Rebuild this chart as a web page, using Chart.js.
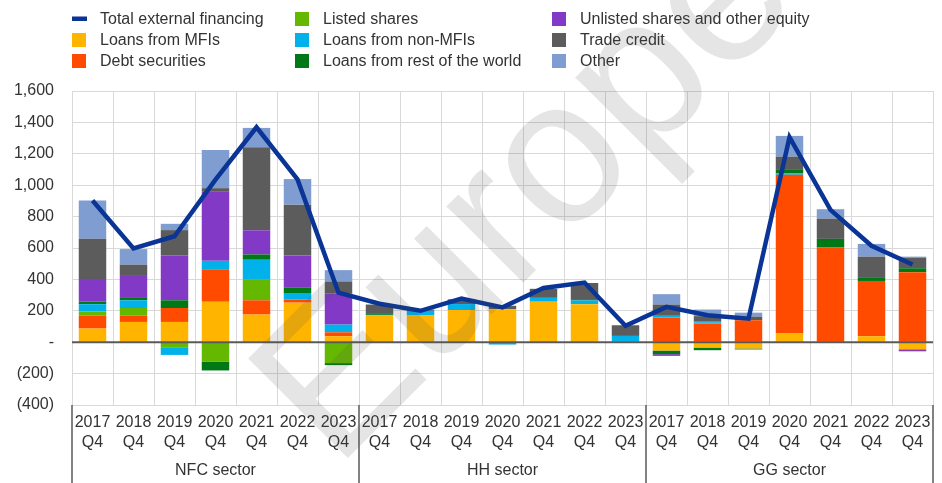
<!DOCTYPE html>
<html>
<head>
<meta charset="utf-8">
<script src="https://cdn.jsdelivr.net/npm/chart.js@4/dist/chart.umd.min.js"></script>
<style>
  html, body { margin: 0; padding: 0; background: #fff; }
  #wrap { width: 942px; height: 483px; }
</style>
</head>
<body>
<div id="wrap"><canvas id="chart" width="942" height="483"></canvas></div>
<script>
// External financing by sector, EUR bn, stacked by instrument
const years = ['2017', '2018', '2019', '2020', '2021', '2022', '2023'];
const sectors = ['NFC sector', 'HH sector', 'GG sector'];

//                 ---------- NFC ----------------------   ------------- HH ---------------   ---------------- GG ------------------
const loansMFI     = [87, 129, 129, 258, 176, 252, 38,      170, 170, 205, 210, 258, 242, 0,    -53, -34, -40, 55, 0, 38, -45];
const debtSec      = [83, 40, 89, 203, 91, 19, 25,          0, 0, 0, 0, 0, 0, 0,                157, 119, 140, 1011, 603, 352, 446];
const listedShares = [25, 49, -32, -123, 135, 0, -133,      0, 0, 0, 0, 0, 0, 0,                0, 0, 0, 0, 0, 0, 0];
const loansNonMFI  = [47, 49, -49, 57, 123, 38, 49,         4, 30, 38, -15, 25, 24, 40,         11, 8, 0, 10, 0, 0, 0];
const loansRoW     = [17, 15, 49, -57, 34, 38, -13,         6, 0, 0, 0, 5, 8, 0,                -23, -17, -6, 26, 55, 24, 25];
const unlisted     = [144, 140, 284, 440, 154, 205, 197,    0, 0, 0, 0, 0, 0, 0,                -11, 5, 0, 0, 0, 0, -13];
const tradeCredit  = [256, 72, 163, 23, 529, 324, 78,       60, 8, 30, 22, 52, 103, 68,         72, 34, 23, 80, 129, 131, 68];
const other        = [243, 99, 40, 243, 123, 163, 72,       0, 0, 0, 0, 0, 0, 0,                66, 42, 25, 132, 60, 81, 6];
const totalFin     = [902, 597, 675, 1035, 1369, 1037, 315, 245, 200, 278, 222, 345, 380, 105,  225, 172, 150, 1306, 843, 614, 495];

const yTicks = [-400, -200, 0, 200, 400, 600, 800, 1000, 1200, 1400, 1600];

const labels = sectors.flatMap(() => years.map(y => [y, 'Q4']));

const FONT = '"Liberation Sans", Arial, sans-serif';
const TEXT = '#333333';
const GRID = '#d9d9d9';
const AXIS = '#595959';

function bar(label, data, color) {
  return { type: 'bar', label, data, backgroundColor: color, borderWidth: 0, order: 1,
           barPercentage: 0.67, categoryPercentage: 1 };
}

const datasets = [
  bar('Loans from MFIs', loansMFI, '#ffb400'),
  bar('Debt securities', debtSec, '#ff4b00'),
  bar('Listed shares', listedShares, '#65b800'),
  bar('Loans from non-MFIs', loansNonMFI, '#00b1ea'),
  bar('Loans from rest of the world', loansRoW, '#007816'),
  bar('Unlisted shares and other equity', unlisted, '#8139c6'),
  bar('Trade credit', tradeCredit, '#5c5c5c'),
  bar('Other', other, '#7f9dd1'),
  { type: 'line', label: 'Total external financing', data: totalFin, stack: 'line',
    borderColor: '#0a3596', borderWidth: 4.5, pointRadius: 0, tension: 0, order: 0, fill: false }
];

// legend is laid out column by column, three rows each
const legendCols = [
  ['Total external financing', 'Loans from MFIs', 'Debt securities'],
  ['Listed shares', 'Loans from non-MFIs', 'Loans from rest of the world'],
  ['Unlisted shares and other equity', 'Trade credit', 'Other']
];
const legendColX = [72, 295, 552];
const legendRowY = [19, 40, 61];

function fmt(v) {
  if (v === 0) return '-';
  const s = Math.abs(v).toLocaleString('en-US');
  return v < 0 ? '(' + s + ')' : s;
}

const legendPlugin = {
  id: 'gridLegend',
  afterDraw(chart) {
    const ctx = chart.ctx;
    ctx.save();
    ctx.font = '16px ' + FONT;
    ctx.textBaseline = 'middle';
    ctx.textAlign = 'left';
    legendCols.forEach((col, ci) => {
      col.forEach((name, ri) => {
        const ds = chart.data.datasets.find(d => d.label === name);
        const x = legendColX[ci], y = legendRowY[ri];
        if (ds.type === 'line') {
          ctx.fillStyle = ds.borderColor;
          ctx.fillRect(x, y - 2.5, 15, 4.5);
        } else {
          ctx.fillStyle = ds.backgroundColor;
          ctx.fillRect(x, y - 7, 14, 14);
        }
        ctx.fillStyle = TEXT;
        ctx.fillText(name, x + 28, y + 1);
      });
    });
    ctx.restore();
  }
};

const sectorPlugin = {
  id: 'sectorAxis',
  afterDraw(chart) {
    const { ctx, chartArea } = chart;
    const n = labels.length;
    const w = (chartArea.right - chartArea.left) / n;
    ctx.save();
    // zero line on top of the bars
    const y0 = chart.scales.y.getPixelForValue(0);
    ctx.strokeStyle = AXIS;
    ctx.lineWidth = 2;
    ctx.beginPath();
    ctx.moveTo(chartArea.left, y0);
    ctx.lineTo(chartArea.right, y0);
    ctx.stroke();
    // group separators below the plot
    ctx.lineWidth = 1.5;
    for (let k = 0; k <= sectors.length; k++) {
      const x = Math.round(chartArea.left + k * years.length * w);
      ctx.beginPath();
      ctx.moveTo(x, chartArea.bottom);
      ctx.lineTo(x, chart.height);
      ctx.stroke();
    }
    ctx.fillStyle = TEXT;
    ctx.font = '16px ' + FONT;
    ctx.textAlign = 'center';
    ctx.textBaseline = 'middle';
    sectors.forEach((s, k) => {
      const cx = chartArea.left + (k + 0.5) * years.length * w;
      ctx.fillText(s, cx, chartArea.bottom + 66);
    });
    ctx.restore();
  }
};

const watermarkPlugin = {
  id: 'watermark',
  afterDraw(chart) {
    const ctx = chart.ctx;
    ctx.save();
    ctx.translate(336, 470);
    ctx.rotate(-Math.PI / 4);
    ctx.font = '205px ' + FONT;
    ctx.textBaseline = 'alphabetic';
    ctx.fillStyle = 'rgba(80, 80, 80, 0.15)';
    ctx.fillText('Europe', 0, 0);
    ctx.restore();
  }
};

new Chart(document.getElementById('chart'), {
  data: { labels, datasets },
  options: {
    responsive: false,
    animation: false,
    layout: { padding: { left: 0, right: 9, top: 91, bottom: 0 } },
    plugins: { legend: { display: false }, tooltip: { enabled: false } },
    scales: {
      x: {
        stacked: true,
        grid: { offset: true, color: GRID, lineWidth: 1, drawTicks: false },
        border: { color: GRID },
        ticks: { color: TEXT, font: { size: 16, family: FONT, lineHeight: 1.22 },
                 maxRotation: 0, minRotation: 0, autoSkip: false, padding: 8 },
        afterFit(scale) { scale.height = 78; }
      },
      y: {
        stacked: true,
        min: -400, max: 1600,
        afterBuildTicks(scale) { scale.ticks = yTicks.map(v => ({ value: v })); },
        grid: { color: GRID, lineWidth: 1, drawTicks: false },
        border: { color: GRID },
        ticks: { color: TEXT, font: { size: 16, family: FONT }, padding: 18, callback: v => fmt(v) },
        afterFit(scale) { scale.width = 72; }
      }
    }
  },
  plugins: [legendPlugin, sectorPlugin, watermarkPlugin]
});
</script>
</body>
</html>
